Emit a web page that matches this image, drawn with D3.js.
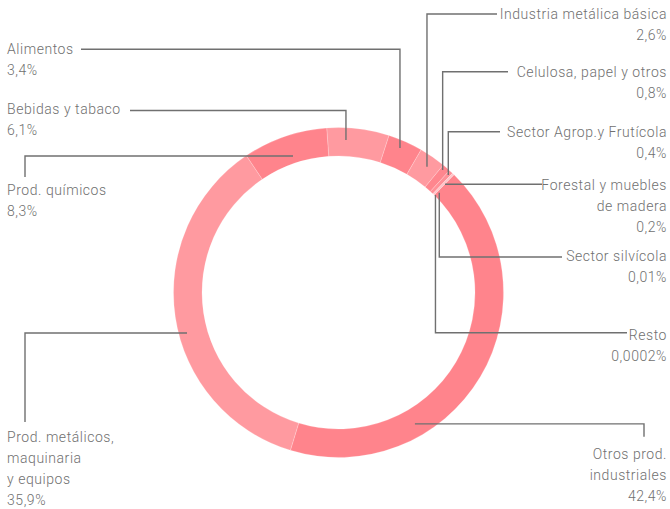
<!DOCTYPE html>
<html><head><meta charset="utf-8">
<script src="https://cdn.jsdelivr.net/npm/d3@7"></script>
<style>body{margin:0;background:#fff}</style>
</head><body>
<svg id="c" width="670" height="509"></svg>
<script>
// ---- data ----
const categories = ["Bebidas y tabaco","Alimentos","Industria metálica básica","Celulosa, papel y otros","Sector Agrop.y Frutícola","Forestal y muebles de madera","Sector silvícola","Resto","Otros prod. industriales","Prod. metálicos, maquinaria y equipos","Prod. químicos"];
const values = [6.1, 3.4, 2.6, 0.8, 0.4, 0.2, 0.01, 0.0002, 42.4, 35.9, 8.3];
const valueLabels = ["6,1%","3,4%","2,6%","0,8%","0,4%","0,2%","0,01%","0,0002%","42,4%","35,9%","8,3%"];
const labelLines = [["Bebidas y tabaco"],["Alimentos"],["Industria metálica básica"],["Celulosa, papel y otros"],["Sector Agrop.y Frutícola"],["Forestal y muebles","de madera"],["Sector silvícola"],["Resto"],["Otros prod.","industriales"],["Prod. metálicos,","maquinaria","y equipos"],["Prod. químicos"]];

// ---- style / layout ----
const colors = ["#FF9AA0","#FF848C","#FF9AA0","#FF868E","#FF9097","#FFC2C6","#FFC2C6","#FFC2C6","#FF848C","#FF9AA0","#FF848C"];
const W = 670, H = 509, cx = 338.5, cy = 292.5, rOuter = 165, rInner = 136.5;
const startDeg = -4.1;
const lineH = 21;
const layout = [
  {x:7,   y:114,   anchor:"start", type:"v", off:-4.07, r:152.7, lineY:110.5, endX:130},
  {x:7,   y:53.5,  anchor:"start", type:"v", off:-0.9,  r:157,   lineY:49.3,  endX:81},
  {x:667, y:19,    anchor:"end",   type:"v", off:0.38,  r:153.8, lineY:14,    endX:497},
  {x:667, y:77,    anchor:"end",   type:"v", off:-0.48, r:160.8, lineY:71.7,  endX:508},
  {x:667, y:137,   anchor:"end",   type:"v", off:0.05,  r:160.8, lineY:131.7, endX:500},
  {x:667, y:189.5, anchor:"end",   type:"d", off:0.46,  r:151.8, endX:542},
  {x:667, y:260.5, anchor:"end",   type:"v", off:0.83,  r:141.8, lineY:257,   endX:562},
  {x:667, y:339.5, anchor:"end",   type:"v", off:0.36,  r:137.5, lineY:332.7, endX:627},
  {x:667, y:458.5, anchor:"end",   type:"h", off:29.1,  r:152,   elbowX:644,  endY:436.7},
  {x:7,   y:442,   anchor:"start", type:"h", off:-6.5,  r:156.8, elbowX:25,   endY:422},
  {x:7,   y:195,   anchor:"start", type:"h", off:0.6,   r:143.9, elbowX:25,   endY:177}
];

const svg = d3.select("#c");
const rad = d => d * Math.PI / 180;
const pie = d3.pie().sort(null).value(d => d)
  .startAngle(rad(startDeg)).endAngle(rad(startDeg) + 2 * Math.PI);
const arcs = pie(values);
const arc = d3.arc().innerRadius(rInner).outerRadius(rOuter);

const g = svg.append("g").attr("transform", `translate(${cx},${cy})`);
g.selectAll("path.slice").data(arcs).join("path")
  .attr("class", "slice")
  .attr("d", arc)
  .attr("fill", (d, i) => colors[i])
  .attr("stroke", "rgba(255,255,255,0.35)")
  .attr("stroke-width", 0.6);

// leader lines
const leaders = svg.append("g").attr("fill", "none").attr("stroke", "#707070").attr("stroke-width", 1.4);
arcs.forEach((a, i) => {
  const L = layout[i];
  const ang = (a.startAngle + a.endAngle) / 2 + rad(L.off);
  const p = d3.pointRadial(ang, L.r);
  const px = cx + p[0], py = cy + p[1];
  let pts;
  if (L.type === "v") pts = [[px, py], [px, L.lineY], [L.endX, L.lineY]];
  else if (L.type === "h") pts = [[px, py], [L.elbowX, py], [L.elbowX, L.endY]];
  else pts = [[px, py], [L.endX, py]];
  leaders.append("path").attr("d", d3.line()(pts));
});

// labels
const labels = svg.append("g")
  .attr("font-family", "Roboto, 'Noto Sans', sans-serif")
  .attr("font-size", 14).attr("font-weight", 300)
  .attr("letter-spacing", 0.55).attr("fill", "#707070");
categories.forEach((c, i) => {
  const L = layout[i];
  const t = labels.append("text").attr("x", L.x).attr("y", L.y).attr("text-anchor", L.anchor);
  const lines = labelLines[i].concat([valueLabels[i]]);
  lines.forEach((s, k) => {
    t.append("tspan").attr("x", L.x).attr("y", L.y + k * lineH).text(s);
  });
});
</script>
</body></html>
